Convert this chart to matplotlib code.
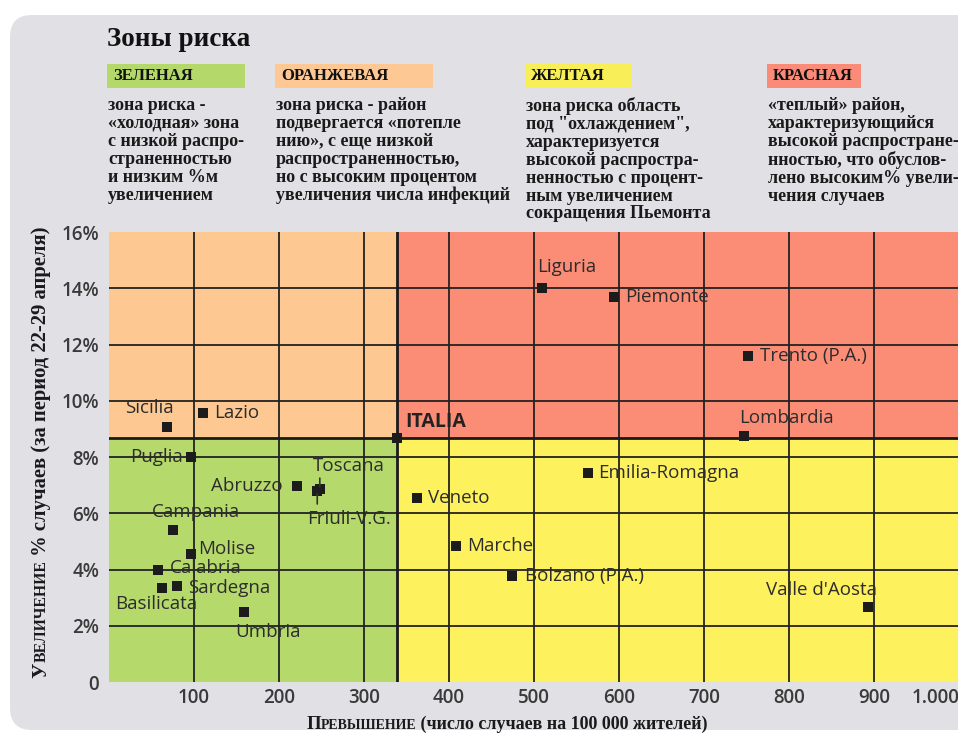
import matplotlib.pyplot as plt
from matplotlib.patches import FancyBboxPatch, Rectangle
from matplotlib.transforms import IdentityTransform

# data: incidence per 100k vs % increase (22-29 April)
regions = ['Liguria', 'Piemonte', 'Trento (P.A.)', 'Lombardia', 'Emilia-Romagna',
           'Bolzano (P.A.)', "Valle d'Aosta", 'Veneto', 'Marche', 'Sicilia', 'Lazio',
           'Puglia', 'Abruzzo', 'Toscana', 'Friuli-V.G.', 'Campania', 'Molise',
           'Calabria', 'Sardegna', 'Basilicata', 'Umbria']
incidence = [509, 594, 752, 747, 563, 474, 893, 362, 408, 68, 110,
             96, 221, 248, 245, 75, 96, 58, 80, 62, 159]
increase = [14.0, 13.7, 11.6, 8.75, 7.44, 3.77, 2.67, 6.55, 4.84, 9.07, 9.57,
            8.0, 6.97, 6.85, 6.8, 5.41, 4.56, 3.98, 3.42, 3.35, 2.49]
italia_x, italia_y = 339, 8.68

x_ticks = [100, 200, 300, 400, 500, 600, 700, 800, 900, 1000]
x_labels = ['100', '200', '300', '400', '500', '600', '700', '800', '900', '1.000']
y_ticks = [0, 2, 4, 6, 8, 10, 12, 14, 16]
y_labels = ['0', '2%', '4%', '6%', '8%', '10%', '12%', '14%', '16%']

zone_names = ['ЗЕЛЕНАЯ', 'ОРАНЖЕВАЯ', 'ЖЕЛТАЯ', 'КРАСНАЯ']
zone_texts = [
    'зона риска -\n«холодная» зона\nс низкой распро-\nстраненностью\nи низким %м\nувеличением',
    'зона риска - район\nподвергается «потепле\nнию», с еще низкой\nраспространенностью,\nно с высоким процентом\nувеличения числа инфекций',
    'зона риска область\nпод "охлаждением",\nхарактеризуется\nвысокой распростра-\nненностью с процент-\nным увеличением\nсокращения Пьемонта',
    '«теплый» район,\nхарактеризующийся\nвысокой распростране-\nнностью, что обуслов-\nлено высоким% увели-\nчения случаев',
]

# label offsets in pixels (dx, dy, ha)
offsets = {
    'Liguria': (-5, 21, 'left'), 'Piemonte': (11, 0, 'left'), 'Trento (P.A.)': (12, 0, 'left'),
    'Lombardia': (-5, 18, 'left'), 'Emilia-Romagna': (11, 0, 'left'),
    'Bolzano (P.A.)': (13, 0, 'left'), "Valle d'Aosta": (9, 17, 'right'),
    'Veneto': (11, 0, 'left'), 'Marche': (11, 0, 'left'), 'Sicilia': (-17, 19, 'center'),
    'Lazio': (12, 0, 'left'), 'Puglia': (-8, 0, 'right'), 'Abruzzo': (-14, 0, 'right'),
    'Toscana': (29, 23, 'center'), 'Friuli-V.G.': (32, -28, 'center'),
    'Campania': (23, 18, 'center'), 'Molise': (8, 5, 'left'), 'Calabria': (12, 2, 'left'),
    'Sardegna': (11, -2, 'left'), 'Basilicata': (-6, -16, 'center'), 'Umbria': (24, -20, 'center'),
}

W, H = 958, 738
fig = plt.figure(figsize=(W / 100, H / 100), dpi=100)
fig.patch.set_facecolor('white')
px = IdentityTransform()
serif = 'Liberation Serif'

# gray rounded panel
fig.add_artist(FancyBboxPatch((10, 8), 1000, H - 15 - 8,
                              boxstyle='round,pad=0,rounding_size=22',
                              transform=px, fc='#e1e1e5', ec='none', zorder=0))

fig.text(107, H - 40, 'Зоны риска', transform=px, fontsize=19.5, fontweight='bold',
         family=serif, va='center', ha='left', color='#111')

box_x = [107, 275, 525, 767]
box_w = [138, 158, 107, 94]
box_c = ['#b4d96a', '#fdc894', '#f8ee58', '#f98b78']
for bx, bw, bc, name, desc in zip(box_x, box_w, box_c, zone_names, zone_texts):
    fig.add_artist(Rectangle((bx, H - 88), bw, 24, transform=px, fc=bc, ec='none'))
    fig.text(bx + 6, H - 76, name, transform=px, fontsize=12, fontweight='bold',
             family=serif, va='center', ha='left', color='#111')
    fig.text(bx + 1, H - 97, desc, transform=px, fontsize=13, fontweight='bold',
             family=serif, va='top', ha='left', color='#1a1a1a', linespacing=1.07)

# plot area
ax = fig.add_axes([109 / W, 1 - 682 / H, 850 / W, 450 / H])
ax.set_xlim(0, 1000)
ax.set_ylim(0, 16)
ax.add_patch(Rectangle((0, 0), italia_x, italia_y, fc='#b6d96c', ec='none', zorder=0))
ax.add_patch(Rectangle((0, italia_y), italia_x, 16 - italia_y, fc='#fdc892', ec='none', zorder=0))
ax.add_patch(Rectangle((italia_x, 0), 1000 - italia_x, italia_y, fc='#fdf15e', ec='none', zorder=0))
ax.add_patch(Rectangle((italia_x, italia_y), 1000 - italia_x, 16 - italia_y, fc='#fb8c76', ec='none', zorder=0))

for xv in x_ticks[:-1]:
    ax.axvline(xv, color='#222', lw=1.3, zorder=1)
for yv in y_ticks[1:-1]:
    ax.axhline(yv, color='#222', lw=1.3, zorder=1)
ax.axvline(italia_x, color='#1a1a1a', lw=2.0, zorder=1)
ax.axhline(italia_y, color='#1a1a1a', lw=2.0, zorder=1)

for s in ax.spines.values():
    s.set_visible(False)
ax.set_xticks(x_ticks)
ax.set_xticklabels(x_labels)
ax.set_yticks(y_ticks)
ax.set_yticklabels(y_labels)
ax.tick_params(length=0, labelsize=13.5, labelcolor='#3a3a3a')
ax.tick_params(axis='x', pad=4)
ax.tick_params(axis='y', pad=7)
for lab in ax.get_xticklabels() + ax.get_yticklabels():
    lab.set_family('Open Sans')
    lab.set_fontweight('semibold')
ax.get_xticklabels()[-1].set_ha('right')

ax.scatter(incidence, increase, marker='s', s=62, color='#1c1c1c', zorder=3, linewidths=0)
ax.scatter([italia_x], [italia_y], marker='s', s=62, color='#1c1c1c', zorder=3, linewidths=0)

for name, xv, yv in zip(regions, incidence, increase):
    dx, dy, ha = offsets[name]
    ax.annotate(name, (xv, yv), xytext=(dx, dy), textcoords='offset pixels',
                ha=ha, va='center', fontsize=13.5, family='Open Sans',
                color='#2c2c2c', zorder=4)
# leader ticks for Toscana / Friuli
ax.annotate('', (incidence[13], increase[13]), xytext=(0, 14), textcoords='offset pixels',
            arrowprops=dict(arrowstyle='-', color='#333', lw=1.2))
ax.annotate('', (incidence[14], increase[14]), xytext=(0, -16), textcoords='offset pixels',
            arrowprops=dict(arrowstyle='-', color='#333', lw=1.2))
ax.annotate('ITALIA', (italia_x, italia_y), xytext=(8, 16), textcoords='offset pixels',
            ha='left', va='center', fontsize=14, fontweight='bold',
            family='Open Sans', color='#222', zorder=4)


# small-caps style axis titles
def smallcaps(parts, cx, cy, rotation):
    r = fig.canvas.get_renderer()
    widths = []
    for s, size in parts:
        t = fig.text(0, 0, s, fontsize=size, fontweight='bold', family=serif, transform=px)
        widths.append(t.get_window_extent(r).width)
        t.remove()
    total = sum(widths)
    pos = -total / 2
    for (s, size), w in zip(parts, widths):
        if rotation == 0:
            x, y = cx + pos, cy
        else:
            x, y = cx, cy + pos
        fig.text(x, y, s, fontsize=size, fontweight='bold', family=serif, transform=px,
                 rotation=rotation, rotation_mode='anchor', ha='left', va='baseline',
                 color='#1a1a1a')
        pos += w


smallcaps([('П', 13.5), ('РЕВЫШЕНИЕ', 10), (' (число случаев на 100 000 жителей)', 13)],
          507, H - 729, 0)
smallcaps([('У', 15), ('ВЕЛИЧЕНИЕ', 11.3), (' % случаев (за период 22-29 апреля)', 14.9)],
          46, H - 452, 90)

fig.savefig('out.png', dpi=100)
